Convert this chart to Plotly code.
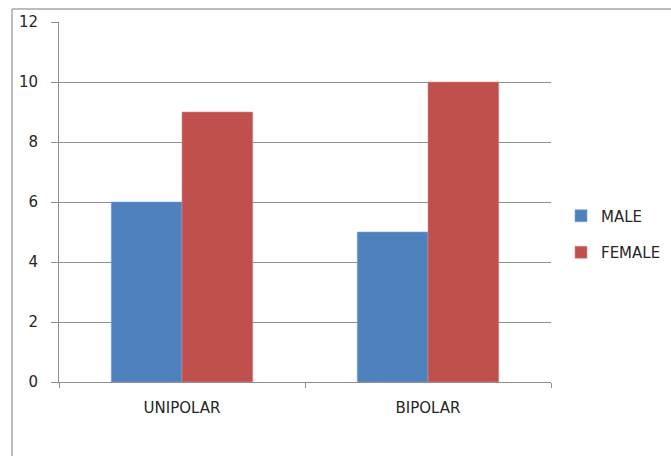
import plotly.graph_objects as go

# Counts by disorder type and sex
categories = ["UNIPOLAR", "BIPOLAR"]
male = [6, 5]
female = [9, 10]
y_ticks = [0, 2, 4, 6, 8, 10, 12]

BLUE = "#4F81BD"
RED = "#C0504D"
GRID = "#8f8f8f"
TEXT = "#262626"
FONT = "DejaVu Sans"

fig = go.Figure()
fig.add_trace(go.Bar(
    name="MALE", x=categories, y=male, legendgroup="m",
    marker=dict(color=BLUE, line=dict(color="#7fa3d0", width=0.6)),
))
fig.add_trace(go.Bar(
    name="FEMALE", x=categories, y=female, legendgroup="f",
    marker=dict(color=RED, line=dict(color="#d98a88", width=0.6)),
))

W, H = 671, 456
L, R, T, B = 59, 120, 22, 74
pw, ph = W - L - R, H - T - B

# chart-area frame (left and top edges visible)
fx = (12 - L) / pw
fy = (H - B - 9) / ph
fig.add_shape(type="line", xref="paper", yref="paper",
              x0=fx, x1=fx, y0=fy, y1=-(B + 5) / ph,
              line=dict(color="#a6a6a6", width=1.5))
fig.add_shape(type="line", xref="paper", yref="paper",
              x0=fx, x1=(W - L + 5) / pw, y0=fy, y1=fy,
              line=dict(color="#a6a6a6", width=1.5))

fig.update_layout(
    width=W, height=H,
    margin=dict(l=L, r=R, t=T, b=B, autoexpand=False),
    paper_bgcolor="white", plot_bgcolor="white",
    barmode="group", bargap=0.425, bargroupgap=0,
    font=dict(family=FONT, size=15, color=TEXT),
    showlegend=True,
    legend=dict(
        x=(561 - L) / pw, xanchor="left",
        y=(H - B - 234) / ph, yanchor="middle",
        tracegroupgap=14,
        font=dict(family=FONT, size=15, color=TEXT),
        bgcolor="rgba(0,0,0,0)",
    ),
    xaxis=dict(
        type="category", tickson="boundaries",
        ticks="outside", ticklen=5, tickcolor=GRID,
        showline=True, linecolor=GRID, linewidth=1,
        showgrid=False, ticklabelstandoff=12,
        tickfont=dict(family=FONT, size=15, color=TEXT),
    ),
    yaxis=dict(
        range=[0, 12], tickvals=y_ticks,
        ticks="outside", ticklen=7, tickcolor=GRID,
        showline=True, linecolor=GRID, linewidth=1,
        showgrid=True, gridcolor=GRID, gridwidth=1,
        zeroline=False, ticklabelstandoff=10,
        tickfont=dict(family=FONT, size=15, color=TEXT),
    ),
)

fig.write_html("out.html")
